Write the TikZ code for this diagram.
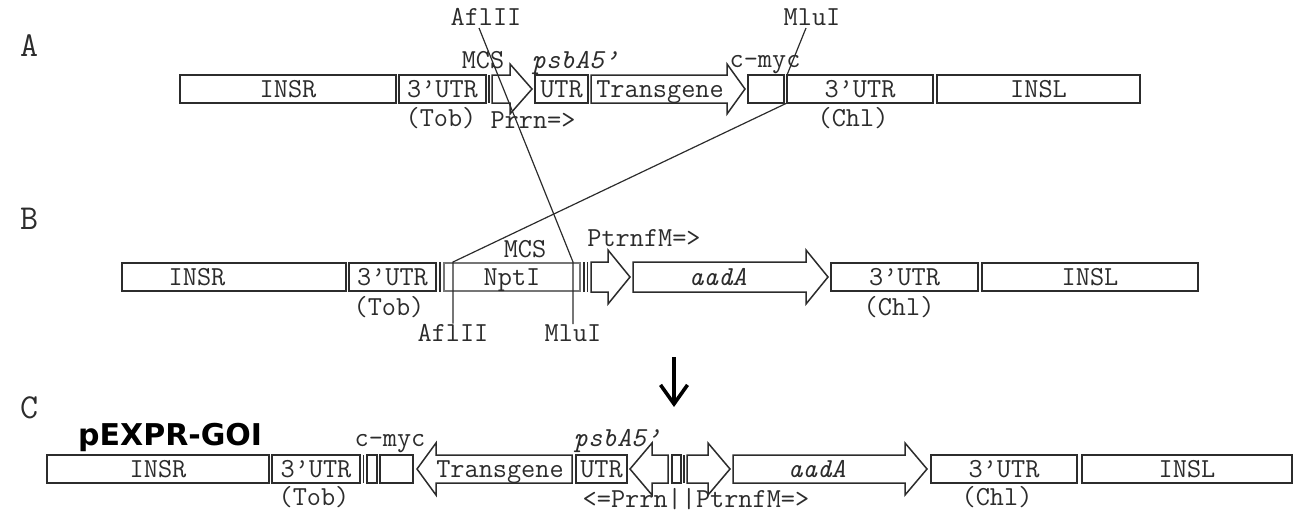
\documentclass[tikz,border=0pt]{standalone}
\usepackage{fontspec}
\newfontfamily\headsans{DejaVu Sans}
\usetikzlibrary{arrows.meta}
\definecolor{ink}{HTML}{2C2C2C}
\newcommand\seqfont{\fontsize{27.5}{29}\selectfont\ttfamily}
\begin{document}
\begin{tikzpicture}[x=1pt,y=-1pt,
  seg/.style={draw=ink,line width=1.5pt,fill=white},
  box/.style={seg,anchor=west,minimum height=28pt,inner sep=0pt,outer sep=0pt,
    text height=16.5pt,text depth=0pt,font=\seqfont,text=ink},
  lbl/.style={font=\seqfont,text=ink,inner sep=0pt,anchor=base},
  tag/.style={font=\fontsize{35}{37}\selectfont\ttfamily,text=ink,inner sep=0pt,anchor=base west},
  cut/.style={draw=ink,line width=1.2pt},
  sep/.style={draw=ink,line width=1.5pt}]
\useasboundingbox (0,0) rectangle (1298,515);

% ---------------- construct A ----------------
\node[tag] (tA) at (20,56) {A};
\node[box,minimum width=216pt] (aINSR) at (180,89) {INSR};
\node[box,minimum width=87pt] (aUTRt) at (399,89) {3’UTR};
\draw[sep] (489,75) -- (489,103);
\draw[seg] (492,75) -- (510,75) -- (510,64) -- (532,89) -- (510,114) -- (510,103) -- (492,103) -- cycle;
\node[box,minimum width=53pt] (aUTR5) at (535,89) {UTR};
\draw[seg] (591,75) -- (727,75) -- (727,64) -- (745,89) -- (727,114) -- (727,103) -- (591,103) -- cycle;
\node[lbl] (aTg) at (660,97) {Transgene};
\node[box,minimum width=36pt] (aMyc) at (748,89) {};
\node[box,minimum width=146pt] (aUTRc) at (787,89) {3’UTR};
\node[box,minimum width=203pt] (aINSL) at (937,89) {INSL};

\node[lbl] (aAfl) at (486,25) {AflII};
\node[lbl] (aMlu) at (812,25) {MluI};
\node[lbl] (aMCS) at (483,68) {MCS};
\node[lbl] (aPsb) at (575,68) {\itshape psbA5’};
\node[lbl] (aMycL) at (765,67) {c-myc};
\node[lbl] (aTob) at (441,126) {(Tob)};
\node[lbl] (aPrrn) at (533,128) {Prrn=>};
\node[lbl] (aChl) at (853,126) {(Chl)};

% ---------------- construct B ----------------
\node[tag] (tB) at (20,229) {B};
\node[box,minimum width=224pt] (bINSR) at (122,277) {};
\node[lbl] (bINSRl) at (197,285) {INSR};
\node[box,minimum width=87pt] (bUTRt) at (349,277) {3’UTR};
\draw[sep] (440,262) -- (440,292);
\node[box,minimum width=136pt,draw=ink!65] (bNpt) at (444,277) {NptI};
\draw[sep] (584,262) -- (584,292);
\draw[sep] (587.5,262) -- (587.5,292);
\draw[seg] (591,262) -- (608,262) -- (608,250) -- (630,277) -- (608,304) -- (608,292) -- (591,292) -- cycle;
\draw[seg] (633,262) -- (806,262) -- (806,250) -- (828,277) -- (806,304) -- (806,292) -- (633,292) -- cycle;
\node[lbl] (bAad) at (718,285) {\itshape aadA};
\node[box,minimum width=147pt] (bUTRc) at (831,277) {3’UTR};
\node[box,minimum width=216pt] (bINSL) at (982,277) {INSL};

\node[lbl] (bMCS) at (525,257) {MCS};
\node[lbl] (bPtrn) at (644,246) {PtrnfM=>};
\node[lbl] (bTob) at (389,315) {(Tob)};
\node[lbl] (bChl) at (899,315) {(Chl)};
\node[lbl] (bAfl) at (453,341) {AflII};
\node[lbl] (bMlu) at (573,341) {MluI};

% restriction sites carried over from A into B
\coordinate (aAflTip) at (479,28);
\coordinate (aMluTip) at (806,28);
\coordinate (bAflTop) at (453,262);
\coordinate (bMluTop) at (573,262);
\draw[cut] (aAflTip) -- (bMluTop) -- (bMlu.north);
\draw[cut] (aMluTip) -- (aUTRc.north west);
\draw[cut] (aUTRc.south west) -- (bAflTop) -- (bAfl.north);

% ---------------- step arrow ----------------
\coordinate (stepTop) at (674,357);
\coordinate (stepEnd) at (674,407);
\draw[line width=3.6pt,-{Straight Barb[length=19pt,width=27pt,line width=3.6pt]}] (stepTop) -- (stepEnd);

% ---------------- construct C ----------------
\node[tag] (tC) at (20,418) {C};
\node[font=\headsans\bfseries\fontsize{30}{32}\selectfont,inner sep=0pt,anchor=base west] (cName) at (78,445) {pEXPR-GOI};
\node[box,minimum width=222pt] (cINSR) at (47,469) {INSR};
\node[box,minimum width=88pt] (cUTRt) at (272,469) {3’UTR};
\draw[sep] (363.5,455) -- (363.5,483);
\node[box,minimum width=10pt] (cSmall) at (367,469) {};
\node[box,minimum width=33pt] (cMyc) at (380,469) {};
\draw[seg] (572,455) -- (436,455) -- (436,443) -- (417,469) -- (436,495) -- (436,483) -- (572,483) -- cycle;
\node[lbl] (cTg) at (500,477) {Transgene};
\node[box,minimum width=51pt] (cUTR5) at (576,469) {UTR};
\draw[seg] (668,455) -- (652,455) -- (652,443) -- (630,469) -- (652,495) -- (652,483) -- (668,483) -- cycle;
\node[box,minimum width=9pt] (cSmall2) at (672,469) {};
\draw[sep] (684,455) -- (684,483);
\draw[seg] (687,455) -- (708,455) -- (708,443) -- (730,469) -- (708,495) -- (708,483) -- (687,483) -- cycle;
\draw[seg] (733,455) -- (905,455) -- (905,443) -- (927,469) -- (905,495) -- (905,483) -- (733,483) -- cycle;
\node[lbl] (cAad) at (817,477) {\itshape aadA};
\node[box,minimum width=146pt] (cUTRc) at (931,469) {3’UTR};
\node[box,minimum width=210pt] (cINSL) at (1082,469) {INSL};

\node[lbl] (cMycL) at (390,446) {c-myc};
\node[lbl] (cPsb) at (617,446) {\itshape psbA5’};
\node[lbl] (cTob) at (314,505) {(Tob)};
\node[lbl] (cChl) at (997,505) {(Chl)};
\node[lbl] (cPro) at (696,507) {<=Prrn||PtrnfM=>};
\end{tikzpicture}
\end{document}
